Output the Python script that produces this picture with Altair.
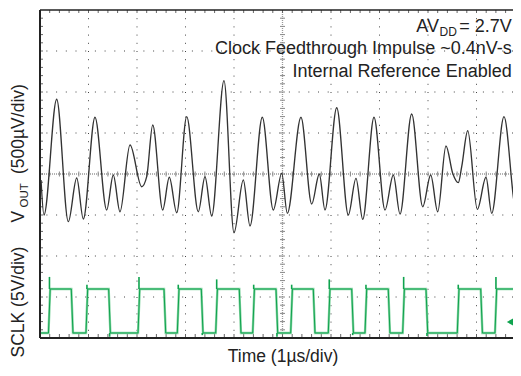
import altair as alt
import pandas as pd
import numpy as np

# ---- data (time in µs = divisions, amplitude in screen divisions) ----
X_MAX = 473 / 48.5

vout_t = [0.021, 0.082, 0.344, 0.584, 0.757, 0.893, 1.134, 1.375, 1.511, 1.649,
          1.856, 2.097, 2.200, 2.324, 2.530, 2.666, 2.819, 3.025, 3.264, 3.402,
          3.540, 3.794, 4.000, 4.192, 4.330, 4.584, 4.810, 4.984, 5.099, 5.381,
          5.602, 5.759, 5.876, 6.118, 6.357, 6.515, 6.654, 6.887, 7.113, 7.285,
          7.423, 7.664, 7.891, 8.056, 8.200, 8.371, 8.509, 8.625, 8.695, 8.819,
          9.017, 9.196, 9.313, 9.567, 9.814, 9.897]
vout_v = [-0.146, -1.000, 1.822, -1.163, -0.098, -1.098, 1.383, -0.878, -0.024, -0.920,
          0.707, -0.310, -0.066, 1.195, -0.878, -0.080, -0.944, 1.398, -0.920, -0.066,
          -1.024, 2.276, -1.432, -0.146, -1.268, 1.383, -0.878, 0.017, -0.959, 1.383,
          -0.732, 0.000, -0.878, 1.617, -1.000, -0.105, -1.105, 1.383, -0.878, -0.024,
          -0.976, 1.463, -0.798, -0.024, -0.920, 0.683, 0.017, -0.212, 0.178, 1.056,
          -0.861, -0.080, -0.959, 1.398, -0.837, -0.098]

sclk_rise = [0.175, 0.948, 2.021, 2.831, 3.623, 4.386, 5.169, 5.944, 6.701, 7.478, 8.604, 9.381]
sclk_fall = [0.645, 1.416, 2.557, 3.326, 4.109, 4.866, 5.635, 6.427, 7.181, 7.959, 9.087, 9.829]
sclk_hi = -2.805
sclk_lo = -3.878

spike_t = [0.195, 0.968, 2.041, 2.851, 3.643, 4.406, 5.189, 5.964, 6.721, 7.498, 8.624, 9.401,
           1.436, 3.346, 4.886, 6.447, 7.979, 9.849]
spike_v = [-2.51, -2.70, -2.51, -2.70, -2.57, -2.70, -2.70, -2.57, -2.70, -2.51, -2.70, -2.51,
           -3.97, -3.93, -3.97, -3.93, -3.95, -3.93]
spike_base = [sclk_hi] * 12 + [sclk_lo] * 6

# ---- build tables ----
vout_df = pd.DataFrame({"t": vout_t, "v": vout_v})

events = sorted([(t, sclk_hi) for t in sclk_rise] + [(t, sclk_lo) for t in sclk_fall])
pts_t, pts_v = [0.02], [sclk_lo]
level = sclk_lo
for t, new in events:
    pts_t += [t, t + 0.035]
    pts_v += [level, new]
    level = new
pts_t.append(10.0)
pts_v.append(level)
sclk_df = pd.DataFrame({"t": pts_t, "v": pts_v, "i": range(len(pts_t))})
spike_df = pd.DataFrame({"t": spike_t, "v": spike_v, "v2": spike_base})

W, H = 473, 328
xs = alt.Scale(domain=[0, X_MAX], nice=False, zero=False)
ys = alt.Scale(domain=[-4, 4], nice=False, zero=False)
X = alt.X("t:Q", scale=xs, axis=None)
Y = alt.Y("v:Q", scale=ys, axis=None)

minor_t = pd.DataFrame({"t": np.round(np.arange(0.2, X_MAX, 0.2), 3)})
minor_v = pd.DataFrame({"v": np.round(np.arange(-3.8, 4.0, 0.2), 3)})

vgrid = alt.Chart(pd.DataFrame({"t": [1, 2, 3, 4, 6, 7, 8, 9]})).mark_rule(
    color="#444", strokeWidth=1, strokeDash=[1, 7.2]).encode(x=X)
hgrid = alt.Chart(pd.DataFrame({"v": [-3, -2, -1, 1, 2, 3]})).mark_rule(
    color="#444", strokeWidth=1, strokeDash=[1, 8.7]).encode(y=Y)
cv = alt.Chart(pd.DataFrame({"t": [5]})).mark_rule(
    color="#999", strokeWidth=1.3, strokeDash=[1, 1]).encode(x=X)
ch = alt.Chart(pd.DataFrame({"v": [0]})).mark_rule(
    color="#999", strokeWidth=1.3, strokeDash=[1, 1]).encode(y=Y)
ch_ticks = alt.Chart(minor_t).mark_rule(color="#888", strokeWidth=1).encode(
    x=X, y=alt.value(H / 2 - 2.5), y2=alt.value(H / 2 + 2.5))
cv_ticks = alt.Chart(minor_v).mark_rule(color="#888", strokeWidth=1).encode(
    y=Y, x=alt.value(5 * 48.5 - 2.5), x2=alt.value(5 * 48.5 + 2.5))
top_ticks = alt.Chart(minor_t).mark_rule(color="#666", strokeWidth=1).encode(
    x=X, y=alt.value(0), y2=alt.value(3))
bot_ticks = alt.Chart(minor_t).mark_rule(color="#666", strokeWidth=1).encode(
    x=X, y=alt.value(H - 4), y2=alt.value(H))
left_ticks = alt.Chart(minor_v).mark_rule(color="#666", strokeWidth=1).encode(
    y=Y, x=alt.value(0), x2=alt.value(3))

frame_left = alt.Chart(pd.DataFrame({"t": [0]})).mark_rule(color="#222", strokeWidth=2).encode(x=X)
frame_top = alt.Chart(pd.DataFrame({"v": [4]})).mark_rule(color="#222", strokeWidth=1.5).encode(y=Y)
frame_bot = alt.Chart(pd.DataFrame({"v": [-4]})).mark_rule(color="#222", strokeWidth=2).encode(y=Y)

vout = alt.Chart(vout_df).mark_line(color="#333", strokeWidth=1.35, interpolate="monotone",
                                    clip=True).encode(x=X, y=Y, order="t:Q")
sclk_light = alt.Chart(sclk_df).mark_line(color="#86d5a4", strokeWidth=2.4, clip=True).encode(
    x=X, y=Y, order="i:Q")
sclk = alt.Chart(sclk_df).mark_line(color="#0fa34e", strokeWidth=1, clip=True).encode(
    x=X, y=Y, order="i:Q")
spikes = alt.Chart(spike_df).mark_rule(color="#0fa34e", strokeWidth=1.6, clip=True).encode(
    x=X, y=Y, y2="v2:Q")
marker = alt.Chart(pd.DataFrame({"t": [9.70], "v": [-3.61]})).mark_point(
    shape="triangle-left", filled=True, color="#0fa34e", size=70, opacity=1).encode(x=X, y=Y)

FONT = "Liberation Sans"
TXT = "#222"

def label(text, x, y, size=18, align="left", angle=0):
    return alt.Chart(pd.DataFrame({"s": [text]})).mark_text(
        font=FONT, fontSize=size, color=TXT, align=align, baseline="alphabetic",
        angle=angle).encode(text="s:N", x=alt.value(x), y=alt.value(y))

texts = [
    label("AV", 399, 21.7, align="right"),
    label("DD", 399.5, 25.5, size=12),
    label("= 2.7V", 471.7, 21.7, align="right"),
    label("Clock Feedthrough Impulse ~0.4nV-s", 471.7, 44, align="right"),
    label("Internal Reference Enabled", 471.7, 66.7, align="right"),
    label("V", -16.5, 212.5, size=17.5, angle=270),
    label("OUT", -12.5, 197.5, size=11.5, angle=270),
    label("(500\u00b5V/div)", -16.5, 164, size=17.5, angle=270),
    label("SCLK (5V/div)", -16.5, 347.5, size=17.5, angle=270),
    label("Time (1\u00b5s/div)", 243, 352, size=17.5, align="center"),
]

chart = alt.layer(
    vgrid, hgrid, cv, ch, ch_ticks, cv_ticks, top_ticks, bot_ticks, left_ticks,
    frame_left, frame_top, frame_bot, sclk_light, sclk, spikes, vout, marker, *texts
).properties(
    width=W, height=H,
    autosize=alt.AutoSizeParams(type="none"),
    padding={"left": 32, "top": 2, "right": 0, "bottom": 28},
    background="white",
).configure_view(strokeWidth=0)

chart.save("out.html", embed_options={"renderer": "svg", "actions": False})
